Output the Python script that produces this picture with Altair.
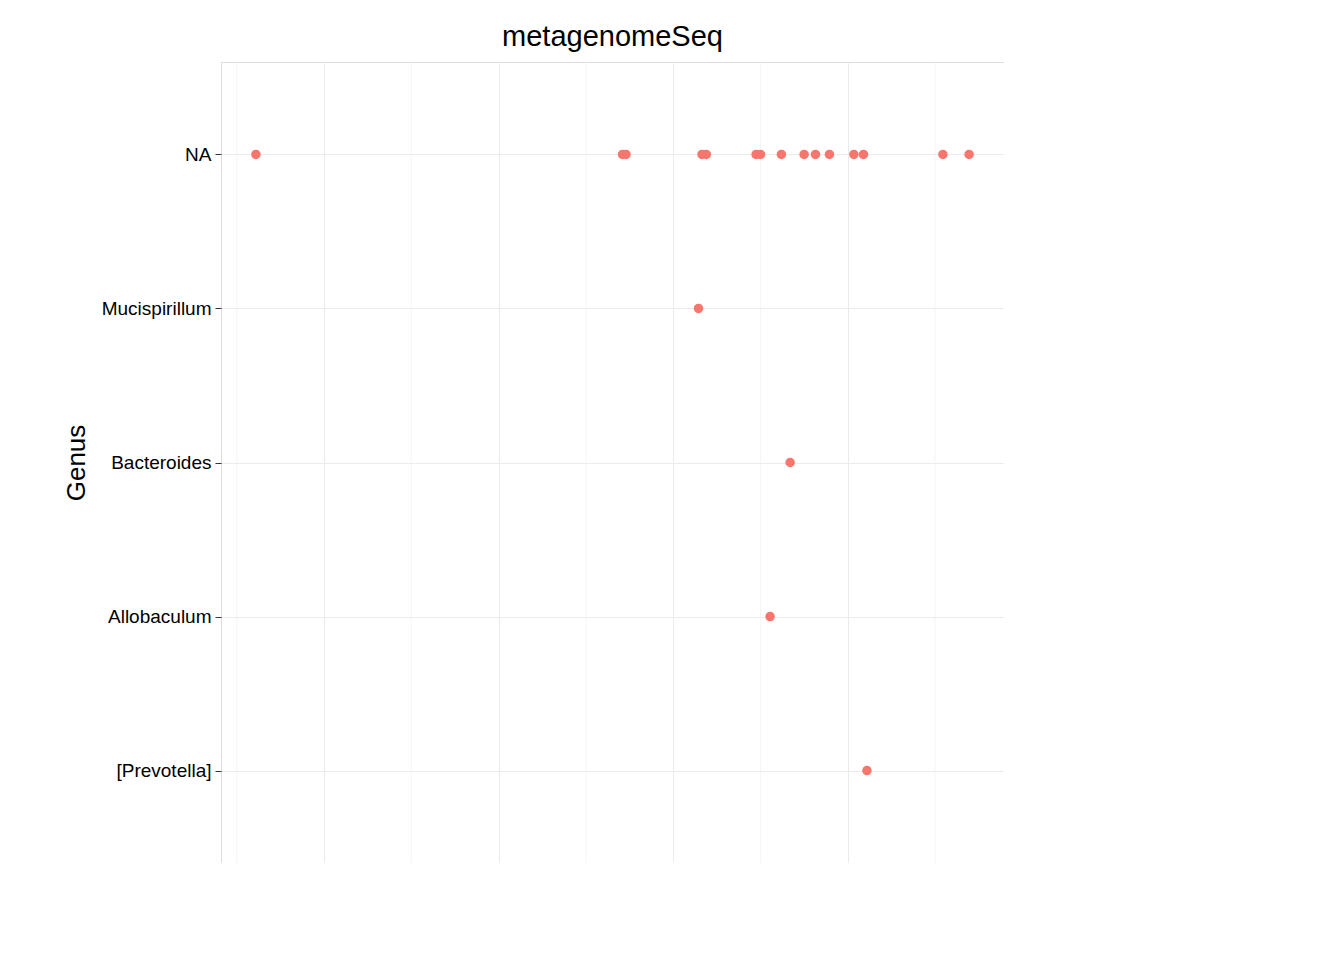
import altair as alt
import pandas as pd

genus = ["NA"]*15 + ["Mucispirillum", "Bacteroides", "Allobaculum", "[Prevotella]"]
intercept = [-4.78, -0.58, -0.54, 0.33, 0.38, 0.95, 1.0, 1.24, 1.5, 1.63, 1.79, 2.07, 2.18, 3.09, 3.39,
             0.29, 1.34, 1.11, 2.22]
sig = ["FALSE"]*len(genus)
order = ["NA", "Mucispirillum", "Bacteroides", "Allobaculum", "[Prevotella]"]
minor = [-5, -3, -1, 1, 3]

df = pd.DataFrame({"Genus": genus, "x": intercept, "sig": sig})
xs = alt.Scale(domain=[-5.18, 3.79], nice=False, zero=False)

grid = alt.Chart(pd.DataFrame({"m": minor})).mark_rule(color="#F2F2F2", strokeWidth=0.8).encode(
    x=alt.X("m:Q", scale=xs))

pts = alt.Chart(df).mark_circle(size=90, opacity=1).encode(
    x=alt.X("x:Q", scale=xs, title="(Intercept)",
            axis=alt.Axis(values=[-4, -2, 0, 2], format="d", labelAngle=90, labelAlign="left",
                          labelBaseline="middle",
                          gridColor="#EBEBEB", tickColor="#333", domain=False, labelFontSize=19,
                          labelColor="#4D4D4D", titleFontSize=26, titleFontWeight="normal", labelPadding=4,
                          titlePadding=6)),
    y=alt.Y("Genus:N", sort=order, scale=alt.Scale(type="point", padding=0.6),
            axis=alt.Axis(gridColor="#EBEBEB", grid=True, tickColor="#333", domain=False, labelFontSize=19,
                          labelColor="#000", titleFontSize=26, titleFontWeight="normal", labelPadding=4,
                          titlePadding=12)),
    color=alt.Color("sig:N", scale=alt.Scale(domain=["FALSE"], range=["#F8766D"]),
                    legend=alt.Legend(title="adjPvalues < 0.05", orient="none", legendX=817, legendY=358,
                                      titleFontSize=26, titleFontWeight="normal", labelFontSize=20,
                                      symbolType="circle", symbolSize=90, titleColor="#000",
                                      labelColor="#000", titlePadding=8))
)

chart = alt.layer(grid, pts).properties(
    width=783, height=801,
    autosize=alt.AutoSizeParams(type="none"),
    padding={"left": 213, "top": 54, "right": 0, "bottom": 0},
    title=alt.TitleParams("metagenomeSeq", fontSize=29, fontWeight="normal", anchor="middle", offset=10)
).configure_view(stroke="#333333", strokeWidth=1).configure(font="Liberation Sans").configure_axis(
    tickSize=6, titleColor="#000")

chart.save("out.html", embed_options={"renderer": "svg", "actions": False})
